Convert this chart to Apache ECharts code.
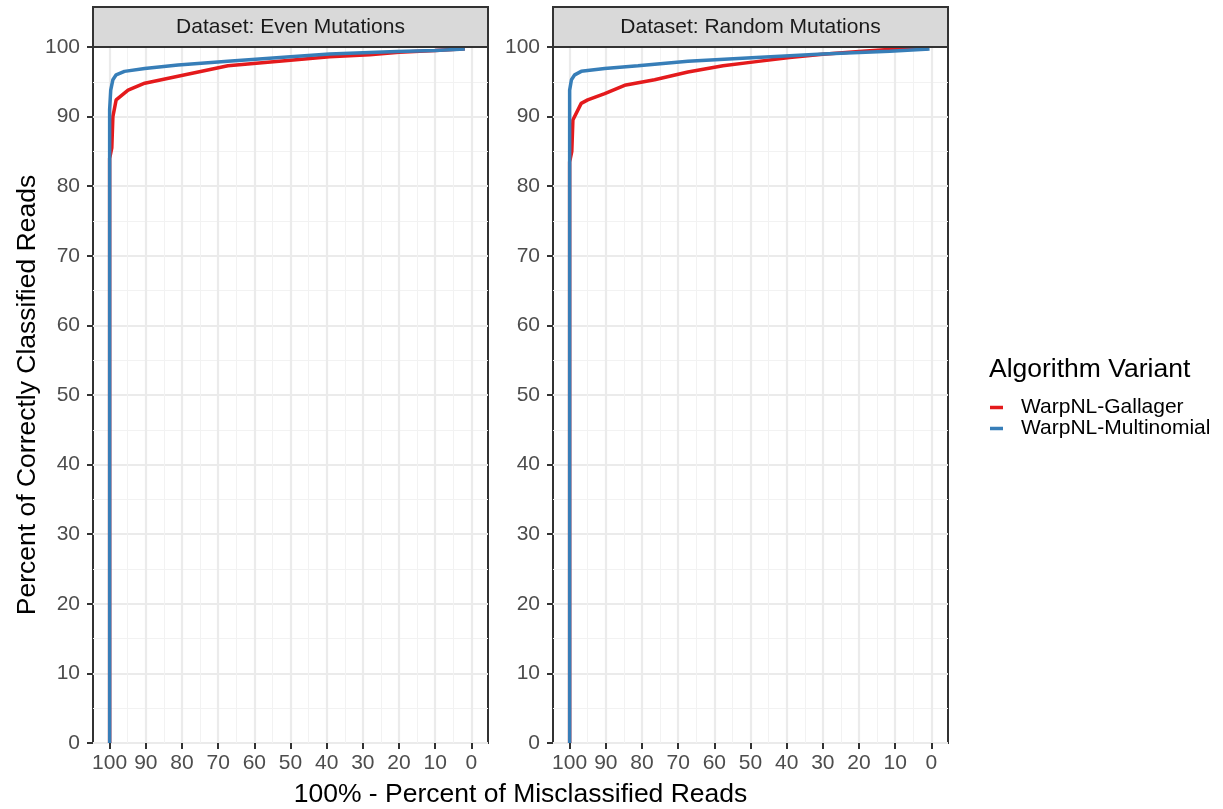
<!DOCTYPE html>
<html>
<head>
<meta charset="utf-8">
<script src="https://cdn.jsdelivr.net/npm/echarts@6/dist/echarts.min.js"></script>
<style>
  html, body { margin: 0; padding: 0; background: #fff; }
  #chart { width: 1223px; height: 809px; }
</style>
</head>
<body>
<div id="chart"></div>
<script>
// Panels (facets)
const panels = ['Dataset: Even Mutations', 'Dataset: Random Mutations'];
const variants = ['WarpNL-Gallager', 'WarpNL-Multinomial'];

// Axis ticks
const xTicks = [0, 10, 20, 30, 40, 50, 60, 70, 80, 90, 100];
const xMinor = [5, 15, 25, 35, 45, 55, 65, 75, 85, 95];

// Even Mutations: x = 100% - percent misclassified, y = percent correctly classified
const evenGallagerX = [100, 100, 99.4, 99.1, 98.2, 94.9, 90.3, 81.1, 67.3, 50, 39.2, 28.1, 20, 10, 1.8];
const evenGallagerY = [0, 84, 85.5, 90, 92.4, 93.8, 94.8, 95.8, 97.3, 98.1, 98.6, 98.9, 99.25, 99.5, 99.75];
const evenMultiX = [100, 100, 99.7, 99.1, 98.2, 95.9, 90.3, 81.1, 67.3, 50, 39.2, 20.7, 10, 1.8];
const evenMultiY = [0, 91, 93.8, 95.3, 96.0, 96.5, 96.9, 97.4, 97.95, 98.6, 99.0, 99.35, 99.5, 99.7];

// Random Mutations
const randGallagerX = [100, 100, 99.4, 99.1, 96.8, 95.0, 90.3, 84.8, 76.5, 67.3, 57.6, 48.4, 39.2, 30, 20, 13, 1];
const randGallagerY = [0, 83.5, 85, 89.5, 91.9, 92.4, 93.3, 94.5, 95.3, 96.4, 97.3, 97.9, 98.5, 98.95, 99.35, 99.6, 99.75];
const randMultiX = [100, 100, 99.5, 98.6, 96.8, 90.3, 81.1, 67.3, 48.4, 30, 11.5, 0.5];
const randMultiY = [0, 93.8, 95.3, 96.0, 96.5, 96.9, 97.3, 97.95, 98.5, 99.0, 99.4, 99.7];

const colors = ['#e41a1c', '#377eb8'];

function zip(xs, ys) { return xs.map((x, i) => [x, ys[i]]); }

const seriesData = [
  [zip(evenGallagerX, evenGallagerY), zip(evenMultiX, evenMultiY)],
  [zip(randGallagerX, randGallagerY), zip(randMultiX, randMultiY)]
];

const gridLefts = [93, 553];
const gridTop = 47, gridW = 395, gridH = 696;

const grids = [], xAxes = [], yAxes = [], series = [], graphics = [];

gridLefts.forEach((left, p) => {
  grids.push({ left: left, top: gridTop, width: gridW, height: gridH,
    show: true, borderColor: '#333333', borderWidth: 2, backgroundColor: '#fff' });

  // major x grid + ticks + labels
  xAxes.push({
    type: 'value', gridIndex: p, inverse: true, min: -4.6, max: 104.6,
    axisLine: { show: false, onZero: false },
    axisTick: { show: true, customValues: xTicks, length: 6, lineStyle: { color: '#333333', width: 2 } },
    axisLabel: { customValues: xTicks, color: '#4d4d4d', fontSize: 21, margin: 10, fontFamily: 'Liberation Sans' },
    splitLine: { show: true, lineStyle: { color: '#ebebeb', width: 2.2 } }
  });
  // minor x grid
  xAxes.push({
    type: 'value', gridIndex: p, inverse: true, min: -4.6, max: 104.6,
    axisLine: { show: false, onZero: false },
    axisTick: { show: false, customValues: xMinor },
    axisLabel: { show: false, customValues: xMinor },
    splitLine: { show: true, lineStyle: { color: '#f2f2f2', width: 1.1 } }
  });

  yAxes.push({
    type: 'value', gridIndex: p, min: 0, max: 100, interval: 10,
    axisLine: { show: false, onZero: false },
    axisTick: { show: true, length: 6, lineStyle: { color: '#333333', width: 2 } },
    axisLabel: { color: '#4d4d4d', fontSize: 21, margin: 13, fontFamily: 'Liberation Sans' },
    splitLine: { show: true, lineStyle: { color: '#ebebeb', width: 2.2 } },
    minorTick: { show: false, splitNumber: 2 },
    minorSplitLine: { show: true, lineStyle: { color: '#f2f2f2', width: 1.1 } }
  });

  variants.forEach((name, v) => {
    series.push({
      type: 'line', name: name,
      xAxisIndex: p * 2, yAxisIndex: p,
      data: seriesData[p][v],
      showSymbol: false, smooth: false,
      lineStyle: { color: colors[v], width: 3.5 },
      itemStyle: { color: colors[v] },
      z: 2 + v
    });
  });

  // facet strip
  graphics.push({
    type: 'rect', shape: { x: left, y: 7, width: gridW, height: 40 },
    style: { fill: '#d9d9d9', stroke: '#333333', lineWidth: 2 }, z: 10
  });
  graphics.push({
    type: 'text', x: left + gridW / 2, y: 27,
    style: { text: panels[p], fill: '#1a1a1a', font: '21px "Liberation Sans"', align: 'center', verticalAlign: 'middle' },
    z: 11
  });
});

// axis titles
graphics.push({
  type: 'text', x: 520.5, y: 795,
  style: { text: '100% - Percent of Misclassified Reads', fill: '#000', font: '26.5px "Liberation Sans"', align: 'center', verticalAlign: 'middle' }
});
graphics.push({
  type: 'text', x: 28, y: 395, rotation: Math.PI / 2,
  style: { text: 'Percent of Correctly Classified Reads', fill: '#000', font: '26.5px "Liberation Sans"', align: 'center', verticalAlign: 'middle' }
});
// legend title
graphics.push({
  type: 'text', x: 989, y: 370,
  style: { text: 'Algorithm Variant', fill: '#000', font: '26.5px "Liberation Sans"', align: 'left', verticalAlign: 'middle' }
});

const chart = echarts.init(document.getElementById('chart'), null, { renderer: 'canvas' });
chart.setOption({
  animation: false,
  backgroundColor: '#ffffff',
  grid: grids,
  xAxis: xAxes,
  yAxis: yAxes,
  series: series,
  legend: {
    data: variants,
    orient: 'vertical',
    left: 985, top: 392,
    itemGap: 0,
    icon: 'rect',
    itemWidth: 13, itemHeight: 3.5,
    textStyle: { fontSize: 21, color: '#000', fontFamily: 'Liberation Sans', lineHeight: 20, padding: [0, 0, 0, 13] }
  },
  graphic: graphics
});
</script>
</body>
</html>
